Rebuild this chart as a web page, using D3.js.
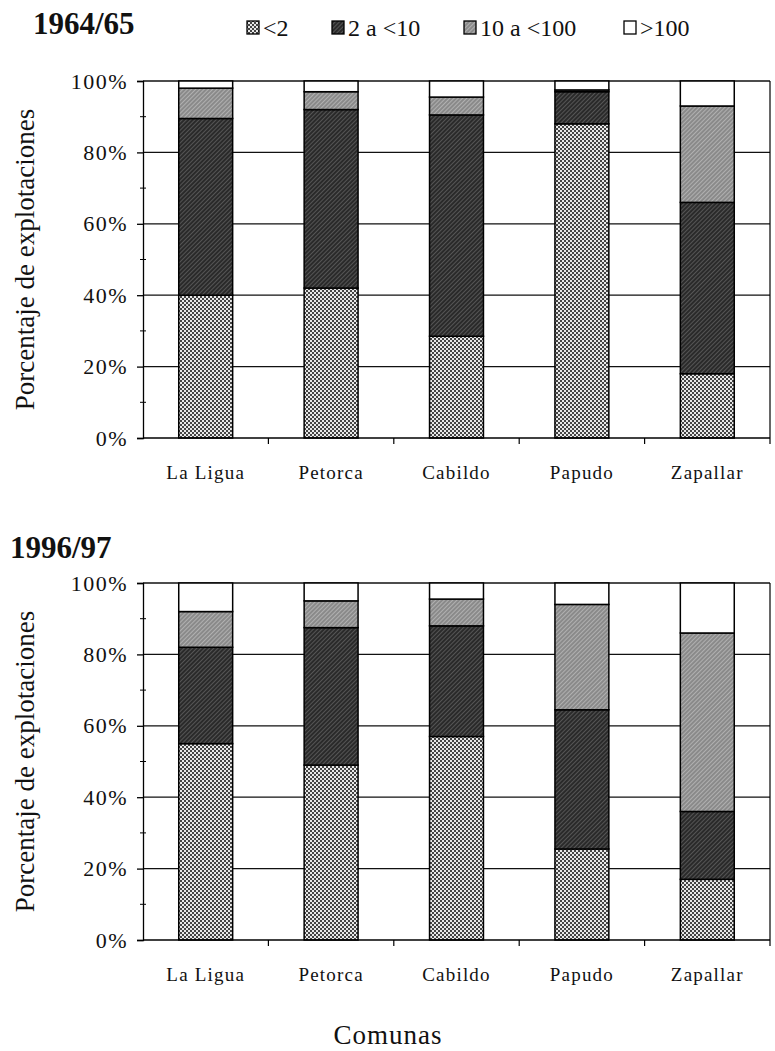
<!DOCTYPE html>
<html><head><meta charset="utf-8">
<script src="https://cdn.jsdelivr.net/npm/d3@7"></script>
<style>body{margin:0;background:#fff}</style>
</head><body>
<svg id="c" width="775" height="1051"></svg>
<script>
const categories = ["La Ligua","Petorca","Cabildo","Papudo","Zapallar"];
const seriesNames = ["<2","2 a <10","10 a <100",">100"];
const yTicks = [0,20,40,60,80,100];
// 1964/65
const p1964_lt2    = [40, 42, 28.5, 88, 18];
const p1964_2to10  = [49.5, 50, 62, 9, 48];
const p1964_10to100= [8.5, 5, 5, 0.5, 27];
const p1964_gt100  = [2, 3, 4.5, 2.5, 7];
// 1996/97
const p1996_lt2    = [55, 49, 57, 25.5, 17];
const p1996_2to10  = [27, 38.5, 31, 39, 19];
const p1996_10to100= [10, 7.5, 7.5, 29.5, 50];
const p1996_gt100  = [8, 5, 4.5, 6, 14];

const svg = d3.select("#c");
const serif = "'Liberation Serif','Times New Roman',serif";
const defs = svg.append("defs");
const pa = defs.append("pattern").attr("id","pLt2").attr("patternUnits","userSpaceOnUse").attr("width",4).attr("height",4);
pa.append("rect").attr("width",4).attr("height",4).attr("fill","#e8e8e8");
pa.append("rect").attr("width",2).attr("height",2).attr("fill","#444");
pa.append("rect").attr("x",2).attr("y",2).attr("width",2).attr("height",2).attr("fill","#444");
const pb = defs.append("pattern").attr("id","p2to10").attr("patternUnits","userSpaceOnUse").attr("width",3).attr("height",3).attr("patternTransform","rotate(45)");
pb.append("rect").attr("width",3).attr("height",3).attr("fill","#2a2a2a");
pb.append("rect").attr("width",1).attr("height",3).attr("fill","#555");
const pc = defs.append("pattern").attr("id","p10to100").attr("patternUnits","userSpaceOnUse").attr("width",3).attr("height",3).attr("patternTransform","rotate(45)");
pc.append("rect").attr("width",3).attr("height",3).attr("fill","#8a8a8a");
pc.append("rect").attr("width",1).attr("height",3).attr("fill","#b0b0b0");
const fills = ["url(#pLt2)","url(#p2to10)","url(#p10to100)","#fff"];

const x = d3.scaleBand().domain(categories).range([143,770]).paddingInner(0.57).paddingOuter(0.285);

function drawChart(y0, y100, arrays, title, titleX, titleY){
  const y = d3.scaleLinear().domain([0,100]).range([y0,y100]);
  const g = svg.append("g");
  g.selectAll("line.grid").data(yTicks.filter(d=>d>0)).join("line")
    .attr("x1",143).attr("x2",770).attr("y1",d=>y(d)).attr("y2",d=>y(d))
    .attr("stroke","#111").attr("stroke-width",1.3);
  const rows = categories.map((c,i)=>{const o={cat:c}; seriesNames.forEach((s,k)=>o[s]=arrays[k][i]); return o;});
  const stack = d3.stack().keys(seriesNames)(rows);
  stack.forEach((layer,k)=>{
    g.selectAll(null).data(layer).join("rect")
      .attr("x",d=>x(d.data.cat)).attr("width",x.bandwidth())
      .attr("y",d=>y(d[1])).attr("height",d=>y(d[0])-y(d[1]))
      .attr("fill",fills[k]).attr("stroke","#000").attr("stroke-width",1.5);
  });
  const ya = d3.axisLeft(y).tickValues(yTicks).tickFormat(d=>d+"%").tickSize(6).tickPadding(9);
  const ay = g.append("g").attr("transform","translate(143,0)").call(ya);
  ay.select(".domain").attr("stroke","#000").attr("stroke-width",1.3);
  ay.selectAll(".tick line").attr("stroke","#000").attr("stroke-width",1.3);
  ay.selectAll("text").attr("font-family",serif).attr("font-size",22).attr("letter-spacing","1.5px").attr("fill","#111");
  const minor = d3.range(10,100,20);
  g.selectAll(null).data(minor).join("line").attr("x1",140).attr("x2",146)
    .attr("y1",d=>y(d)).attr("y2",d=>y(d)).attr("stroke","#000").attr("stroke-width",1);
  g.append("line").attr("x1",143).attr("x2",770).attr("y1",y0).attr("y2",y0).attr("stroke","#000").attr("stroke-width",1.3);
  const bounds = d3.range(1,6).map(i=>143 + i*x.step());
  g.selectAll(null).data(bounds).join("line").attr("x1",d=>d).attr("x2",d=>d)
    .attr("y1",y0).attr("y2",y0+6).attr("stroke","#000").attr("stroke-width",1.2);
  g.append("line").attr("x1",770).attr("x2",770).attr("y1",y100).attr("y2",y0).attr("stroke","#000").attr("stroke-width",1.2);
  g.selectAll(null).data(categories).join("text")
    .attr("x",d=>x(d)+x.bandwidth()/2).attr("y",y0+41)
    .attr("text-anchor","middle").attr("font-family",serif).attr("font-size",19)
    .attr("letter-spacing","1.2px").attr("fill","#111").text(d=>d);
  g.append("text").attr("transform",`translate(34,${(y0+y100)/2}) rotate(-90)`)
    .attr("text-anchor","middle").attr("font-family",serif).attr("font-size",27).attr("fill","#111")
    .text("Porcentaje de explotaciones");
  svg.append("text").attr("x",titleX).attr("y",titleY).attr("font-family",serif)
    .attr("font-weight","bold").attr("font-size",31).attr("fill","#111").text(title);
}

drawChart(438, 81, [p1964_lt2,p1964_2to10,p1964_10to100,p1964_gt100], "1964/65", 33, 34);
drawChart(940, 583, [p1996_lt2,p1996_2to10,p1996_10to100,p1996_gt100], "1996/97", 10, 558);

const legX = [247, 332, 464, 624];
const leg = svg.append("g");
seriesNames.forEach((s,k)=>{
  leg.append("rect").attr("x",legX[k]).attr("y",21).attr("width",12).attr("height",13)
    .attr("fill",fills[k]).attr("stroke","#000").attr("stroke-width",1.3);
  leg.append("text").attr("x",legX[k]+16).attr("y",36).attr("font-family",serif)
    .attr("font-size",24).attr("fill","#111").text(s);
});

svg.append("text").attr("x",388).attr("y",1044).attr("text-anchor","middle")
  .attr("font-family",serif).attr("font-size",27).attr("letter-spacing","1px").attr("fill","#111").text("Comunas");
</script>
</body></html>
